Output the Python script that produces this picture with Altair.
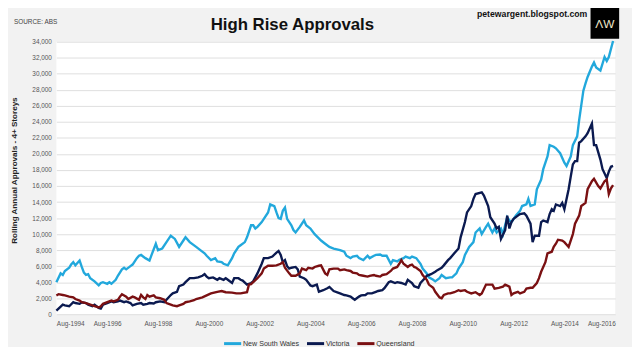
import altair as alt
import pandas as pd

# ---------------- data (values in thousands of approvals) ----------------
states = ["New South Wales", "Victoria", "Queensland"]
colors = ["#22a8dc", "#0b1a50", "#7a1012"]

nsw_dates = ["1994-08","1994-10","1994-11","1994-12","1995-02","1995-03","1995-04","1995-05","1995-07","1995-08",
 "1995-09","1995-10","1995-11","1995-12","1996-02","1996-04","1996-05","1996-06","1996-08","1996-09",
 "1996-10","1996-12","1997-01","1997-03","1997-04","1997-05","1997-07","1997-08","1997-10","1997-11",
 "1997-12","1998-02","1998-04","1998-05","1998-07","1998-08","1998-10","1998-12","1999-02","1999-04",
 "1999-06","1999-08","1999-09","1999-11","2000-02","2000-04","2000-06","2000-07","2000-09","2000-11",
 "2000-12","2001-02","2001-03","2001-05","2001-07","2001-08","2001-10","2001-11","2002-01","2002-02",
 "2002-04","2002-05","2002-06","2002-07","2002-09","2002-10","2002-12","2003-01","2003-03","2003-04",
 "2003-05","2003-06","2003-07","2003-08","2003-09","2003-11","2003-12","2004-01","2004-03","2004-05",
 "2004-06","2004-08","2004-10","2005-01","2005-03","2005-05","2005-07","2005-10","2005-12","2006-01",
 "2006-03","2006-04","2006-06","2006-07","2006-09","2006-11","2006-12","2007-02","2007-03","2007-05",
 "2007-06","2007-08","2007-10","2007-11","2008-01","2008-02","2008-04","2008-05","2008-07","2008-08",
 "2008-10","2008-12","2009-01","2009-03","2009-04","2009-06","2009-07","2009-09","2009-10","2009-12",
 "2010-02","2010-03","2010-05","2010-06","2010-08","2010-09","2010-11","2011-01","2011-02","2011-04",
 "2011-05","2011-07","2011-08","2011-09","2011-10","2011-11","2011-12","2012-02","2012-03","2012-04",
 "2012-05","2012-06","2012-07","2012-09","2012-11","2012-12","2013-02","2013-03","2013-04","2013-06",
 "2013-07","2013-09","2013-10","2013-12","2014-01","2014-03","2014-04","2014-06","2014-08","2014-09",
 "2014-11","2014-12","2015-02","2015-03","2015-05","2015-06","2015-07","2015-09","2015-10","2015-11",
 "2016-01","2016-03","2016-04","2016-05","2016-07"]
nsw_values = [4.0,5.1,4.9,5.4,5.8,6.2,6.5,6.1,6.7,5.9,
 5.2,4.9,5.0,4.5,4.1,3.6,3.9,4.0,3.8,4.0,
 3.8,4.3,4.8,5.6,5.8,5.6,6.0,6.2,7.0,7.3,
 7.4,7.0,6.7,7.4,8.8,8.0,8.2,9.0,9.8,9.4,
 8.4,9.2,9.6,9.0,8.4,8.0,7.6,7.3,6.75,7.0,
 6.6,6.5,6.3,6.1,7.0,7.6,8.4,8.6,9.0,9.6,
 11.1,11.1,10.7,10.9,11.5,11.9,12.7,13.7,13.5,12.7,
 12.0,11.9,12.9,13.3,11.9,11.1,10.5,10.2,10.9,11.7,
 11.1,10.7,10.0,9.2,8.8,8.4,8.2,8.0,7.8,7.3,
 7.0,7.2,7.3,7.0,6.75,7.3,7.0,7.3,7.4,7.45,
 7.3,7.3,6.3,6.75,6.6,6.8,7.0,7.2,7.0,7.2,
 7.0,6.3,5.7,5.1,4.6,4.3,4.1,4.5,4.9,4.5,
 4.6,4.6,5.1,5.7,6.5,7.4,8.4,9.0,10.2,10.7,
 10.0,10.9,11.3,10.7,10.2,10.7,10.2,10.7,10.0,11.1,
 12.1,11.7,11.5,12.3,12.9,13.5,13.7,14.4,13.5,13.7,
 15.6,16.8,18.1,19.7,21.1,20.9,20.7,20.1,18.9,18.5,
 19.7,21.1,22.2,24.2,27.9,28.8,29.6,30.9,31.4,30.8,
 30.4,32.1,31.6,32.1,34.1]

vic_dates = ["1994-08","1994-09","1994-11","1994-12","1995-02","1995-04","1995-05","1995-07","1995-08","1995-10",
 "1995-11","1996-01","1996-02","1996-04","1996-05","1996-06","1996-08","1996-10","1996-11","1997-01",
 "1997-02","1997-04","1997-05","1997-07","1997-08","1997-10","1997-12","1998-01","1998-03","1998-04",
 "1998-06","1998-07","1998-09","1998-11","1998-12","1999-02","1999-03","1999-05","1999-06","1999-08",
 "1999-09","1999-11","2000-01","2000-03","2000-05","2000-06","2000-07","2000-08","2000-10","2000-12",
 "2001-01","2001-03","2001-04","2001-05","2001-07","2001-08","2001-10","2001-11","2001-12","2002-02",
 "2002-04","2002-05","2002-07","2002-09","2002-10","2002-12","2003-02","2003-04","2003-05","2003-06",
 "2003-07","2003-08","2003-09","2003-10","2003-11","2004-01","2004-02","2004-03","2004-05","2004-06",
 "2004-08","2004-09","2004-11","2004-12","2005-02","2005-04","2005-05","2005-07","2005-09","2005-10",
 "2005-12","2006-01","2006-03","2006-04","2006-05","2006-07","2006-08","2006-10","2006-11","2007-01",
 "2007-03","2007-04","2007-06","2007-07","2007-09","2007-10","2007-12","2008-01","2008-03","2008-05",
 "2008-06","2008-08","2008-09","2008-11","2008-12","2009-02","2009-03","2009-05","2009-07","2009-08",
 "2009-10","2009-11","2010-01","2010-02","2010-04","2010-06","2010-07","2010-09","2010-10","2010-12",
 "2011-01","2011-02","2011-05","2011-06","2011-08","2011-09","2011-11","2011-12","2012-01","2012-02",
 "2012-04","2012-05","2012-06","2012-07","2012-08","2012-10","2012-11","2013-01","2013-02","2013-04",
 "2013-05","2013-06","2013-08","2013-09","2013-10","2013-12","2014-01","2014-02","2014-03","2014-04",
 "2014-06","2014-07","2014-08","2014-10","2014-11","2014-12","2015-01","2015-02","2015-03","2015-04",
 "2015-06","2015-07","2015-09","2015-10","2015-11","2016-01","2016-02","2016-04","2016-05","2016-06",
 "2016-07"]
vic_values = [0.45,0.7,1.2,1.1,1.0,1.5,1.4,1.3,1.5,1.4,
 1.2,1.0,1.2,0.8,0.7,1.2,1.4,1.6,1.5,1.6,
 1.7,1.5,1.6,1.4,1.1,1.3,1.4,1.2,1.3,1.4,
 1.35,1.5,1.6,1.5,1.8,2.4,2.6,2.8,3.5,3.7,
 4.0,4.5,4.5,4.6,4.8,5.0,4.7,4.5,4.6,4.3,
 4.5,4.3,4.5,4.3,3.9,4.5,4.5,4.3,4.2,3.7,
 3.9,4.1,5.1,6.3,7.0,7.0,7.2,7.7,7.9,7.4,
 6.5,6.75,6.0,5.7,5.8,5.9,5.6,4.7,4.5,4.3,
 3.6,3.5,3.7,2.8,3.0,3.25,3.4,2.9,2.7,2.6,
 2.4,2.35,2.2,2.0,1.8,2.2,2.35,2.4,2.6,2.6,
 2.8,2.9,3.0,3.25,4.0,4.1,3.9,4.0,3.9,3.7,
 4.3,3.9,3.5,3.3,3.9,4.5,4.8,5.0,5.3,5.5,
 5.8,6.1,6.75,7.0,7.6,8.2,9.6,11.5,12.7,13.5,
 14.4,15.0,15.2,14.8,13.5,12.1,11.3,10.7,10.9,9.4,
 10.5,12.3,10.7,11.5,11.9,12.3,12.5,12.6,12.3,11.3,
 9.0,9.8,9.8,11.5,11.7,11.5,12.5,13.1,12.9,13.7,
 13.5,13.9,13.1,15.6,17.2,18.7,19.1,19.1,21.4,21.6,
 22.2,22.6,23.8,21.1,21.1,19.3,18.1,17.0,17.8,18.4,
 18.5]

qld_dates = ["1994-08","1994-09","1994-11","1994-12","1995-02","1995-04","1995-05","1995-07","1995-08","1995-10",
 "1995-11","1996-01","1996-02","1996-04","1996-05","1996-06","1996-08","1996-10","1996-11","1997-01",
 "1997-02","1997-03","1997-05","1997-06","1997-08","1997-09","1997-11","1997-12","1998-01","1998-02",
 "1998-03","1998-04","1998-06","1998-07","1998-09","1998-11","1998-12","1999-02","1999-03","1999-05",
 "1999-06","1999-08","1999-09","1999-11","2000-01","2000-02","2000-05","2000-07","2000-09","2000-12",
 "2001-02","2001-04","2001-07","2001-09","2001-11","2002-02","2002-03","2002-04","2002-05","2002-07",
 "2002-09","2002-10","2002-12","2003-02","2003-04","2003-06","2003-07","2003-08","2003-10","2003-11",
 "2004-01","2004-03","2004-04","2004-06","2004-07","2004-09","2004-10","2004-12","2005-01","2005-03",
 "2005-04","2005-05","2005-07","2005-09","2005-10","2005-12","2006-01","2006-03","2006-04","2006-06",
 "2006-07","2006-09","2006-11","2006-12","2007-02","2007-03","2007-05","2007-06","2007-08","2007-10",
 "2007-11","2008-01","2008-02","2008-03","2008-04","2008-06","2008-07","2008-08","2008-09","2008-10",
 "2008-12","2009-01","2009-03","2009-04","2009-06","2009-07","2009-09","2009-10","2009-11","2010-01",
 "2010-02","2010-04","2010-06","2010-07","2010-09","2010-10","2010-12","2011-02","2011-04","2011-05",
 "2011-07","2011-08","2011-10","2011-11","2012-01","2012-03","2012-04","2012-06","2012-07","2012-08",
 "2012-10","2012-11","2013-01","2013-02","2013-04","2013-05","2013-07","2013-08","2013-09","2013-11",
 "2013-12","2014-02","2014-03","2014-04","2014-05","2014-07","2014-08","2014-10","2014-12","2015-01",
 "2015-03","2015-04","2015-06","2015-07","2015-09","2015-10","2015-12","2016-01","2016-03","2016-04",
 "2016-05","2016-06","2016-07"]
qld_values = [2.35,2.5,2.4,2.35,2.2,2.1,1.9,1.7,1.5,1.4,
 1.3,1.1,1.0,0.85,1.0,1.3,1.5,1.7,1.6,1.8,
 2.2,2.5,2.2,1.9,2.2,2.1,1.8,2.4,2.1,1.9,
 2.4,2.2,2.35,2.1,2.0,1.8,1.4,1.2,1.1,1.0,
 1.1,1.3,1.5,1.6,1.75,1.9,2.1,2.35,2.6,2.8,
 2.9,2.75,2.7,2.6,2.6,2.75,3.7,3.75,4.0,4.5,
 5.1,5.7,6.05,6.05,6.1,6.3,6.5,5.8,5.1,4.8,
 4.8,5.1,5.7,5.5,5.8,5.7,5.9,6.05,6.1,5.1,
 4.9,5.6,5.7,5.7,5.5,5.6,5.5,5.4,5.2,5.1,
 4.9,4.8,4.7,4.8,4.9,4.8,4.7,4.9,5.0,5.4,
 5.7,5.9,6.3,6.75,6.3,5.9,6.1,6.2,5.9,5.8,
 5.4,4.9,4.3,3.7,3.3,2.8,2.1,2.0,2.4,2.6,
 2.6,2.75,3.0,2.9,3.0,2.8,2.6,2.75,2.4,2.6,
 3.7,3.7,3.7,3.2,3.3,3.45,3.7,3.45,2.4,2.6,
 2.8,2.6,2.8,3.2,3.3,3.3,3.9,4.5,5.3,6.5,
 7.6,7.8,8.4,8.8,9.3,9.2,9.0,8.4,10.0,11.3,
 12.3,13.5,13.9,15.6,16.6,16.9,16.0,15.7,16.6,16.8,
 15.0,15.7,16.1]

x_tick_years = [1994, 1996, 1998, 2000, 2002, 2004, 2006, 2008, 2010, 2012, 2014, 2016]
y_ticks = [0, 2000, 4000, 6000, 8000, 10000, 12000, 14000, 16000, 18000,
           20000, 22000, 24000, 26000, 28000, 30000, 32000, 34000]

title_text = "High Rise Approvals"
source_text = "SOURCE: ABS"
blog_text = "petewargent.blogspot.com"
logo_text = "ΛW"
y_title = "Rolling Annual Approvals - 4+ Storeys"

# ---------------- build table ----------------
frames = []
for name, d, v in [(states[0], nsw_dates, nsw_values),
                   (states[1], vic_dates, vic_values),
                   (states[2], qld_dates, qld_values)]:
    frames.append(pd.DataFrame({"date": [s + "-01" for s in d],
                                "value": [x * 1000 for x in v],
                                "state": name}))
df = pd.concat(frames, ignore_index=True)

FONT = "Liberation Sans Narrow, Liberation Sans, Arial, sans-serif"
W, H = 566, 276

x_vals = [alt.DateTime(year=y, month=8, date=1, utc=True) for y in x_tick_years]

lines = alt.Chart(df).mark_line(strokeWidth=2.4).encode(
    x=alt.X("date:T",
            scale=alt.Scale(type="utc",
                            domain=[alt.DateTime(year=1994, month=8, date=1, utc=True),
                                    alt.DateTime(year=2016, month=8, date=1, utc=True)]),
            axis=alt.Axis(values=x_vals, labelExpr="utcFormat(datum.value, '%b-%Y')",
                          title=None, grid=False, ticks=False, domain=False,
                          labelFontSize=6.5, labelColor="#555555", labelPadding=6,
                          labelFont=FONT, labelOverlap=False)),
    y=alt.Y("value:Q",
            scale=alt.Scale(domain=[0, 34000], nice=False),
            axis=alt.Axis(values=y_ticks, format=",d", title=y_title, grid=True,
                          gridColor="#dedede", ticks=False, domain=False,
                          labelFontSize=6.5, labelColor="#555555", labelPadding=5,
                          labelFont=FONT, titleFont=FONT, titleFontSize=8.2,
                          titleFontWeight="bold", titleColor="#222222", titlePadding=13,
                          titleY=130)),
    color=alt.Color("state:N",
                    scale=alt.Scale(domain=states, range=colors),
                    legend=alt.Legend(title=None, orient="none", direction="horizontal",
                                      legendX=168, legendY=295, symbolType="stroke",
                                      symbolStrokeWidth=3, symbolSize=300,
                                      labelFont=FONT, labelFontSize=7.2,
                                      labelColor="#333333", labelOffset=0,
                                      columnPadding=1)),
    order=alt.Order("date:T"),
)


def text_layer(txt, x, y, size, weight="normal", color="#222222", align="left", font=FONT):
    return alt.Chart(pd.DataFrame({"t": [txt]})).mark_text(
        align=align, baseline="alphabetic", fontSize=size, fontWeight=weight,
        color=color, font=font
    ).encode(x=alt.value(x), y=alt.value(y), text="t:N")


title = text_layer(title_text, 239, -12, 17, "bold", "#111111", "center")
source = text_layer(source_text, -43, -18, 6.5, "normal", "#444444")
blog = text_layer(blog_text, 426, -25, 8.8, "bold", "#111111")
logo_box = alt.Chart(pd.DataFrame({"a": [1]})).mark_rect(color="#000000").encode(
    x=alt.value(541), x2=alt.value(570), y=alt.value(-37), y2=alt.value(-3))
logo = text_layer(logo_text, 555.5, -14, 12, "normal", "#efe6c8", "center")

chart = alt.layer(lines, title, source, blog, logo_box, logo).properties(
    width=W, height=H,
    padding={"left": 49, "top": 32, "right": 17, "bottom": 31},
    autosize=alt.AutoSizeParams(type="none"),
    background="#f2f2f2",
).configure_view(fill="white", stroke=None)

chart.save("out.html", embed_options={"renderer": "svg", "actions": False})
